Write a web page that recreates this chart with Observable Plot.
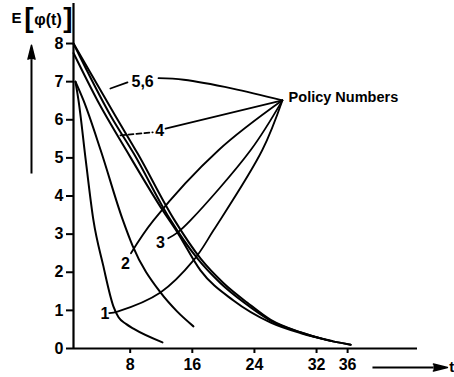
<!DOCTYPE html>
<html><head><meta charset="utf-8">
<script src="https://cdn.jsdelivr.net/npm/d3@7"></script>
<script src="https://cdn.jsdelivr.net/npm/@observablehq/plot@0.6"></script>
<style>
html,body{margin:0;padding:0;background:#fff;}
#wrap{position:relative;width:454px;height:377px;overflow:hidden;}
</style></head>
<body><div id="wrap"></div>
<script>
// tick values
const ticksY = [0, 1, 2, 3, 4, 5, 6, 7, 8];
const ticksX = [8, 16, 24, 32, 36];

// E[phi(t)] curves per policy: [t, E]
const policy1 = [[0.95,7.0],[1.35,6.5],[2.3,4.9],[3.27,3.36],[4.5,2.2],[5.85,1.1],[6.5,0.82],[7.5,0.64],[8.42,0.52],[12.16,0.16]];
const policy2 = [[0.95,7.0],[2.0,6.5],[4.2,5.2],[7.0,3.4],[8.3,2.7],[11.9,1.47],[14.0,0.98],[16.15,0.58]];
const policy3 = [[0.7,7.75],[3.8,6.5],[7.5,5.2],[12.2,3.62],[14.1,3.04],[17.05,2.05],[21.3,1.26],[26.1,0.68],[30,0.4],[34,0.2]];
const policy4 = [[0.7,8.0],[5.5,6.1],[8.5,5.1],[13.1,3.4],[16.7,2.35],[19.6,1.72],[22.7,1.2],[26.0,0.74],[30,0.42],[33,0.24],[36.4,0.1]];
const policy56 = [[0.7,8.0],[6.1,6.1],[9.0,5.1],[13.6,3.4],[17.1,2.35],[20,1.72],[23.1,1.2],[26.1,0.75],[30,0.42],[33,0.24],[36.4,0.1]];

// leader lines to "Policy Numbers"
const leader56 = [[11.65,7.09],[14.9,7.05],[21.2,6.82],[27.6,6.51]];
const stub56 = [[5.45,6.82],[7.65,6.98]];
const leader4 = [[12.55,5.77],[27.6,6.51]];
const dash4 = [[6.75,5.59],[10.9,5.67]];
const leader3 = [[12.9,2.89],[14.08,3.04],[15.76,3.36],[23.5,5.2],[27.6,6.51]];
const leader2 = [[8.1,2.5],[11.0,3.36],[19.37,5.2],[27.6,6.51]];
const leader1 = [[5.3,0.93],[6.36,0.97],[11.9,1.47],[16.15,2.31],[18.73,3.1],[25.0,5.2],[27.6,6.51]];

// labels
const policyLabels = ["5,6", "4", "3", "2", "1"];
const policyLabelT = [9.6, 11.8, 11.9, 7.4, 4.75];
const policyLabelE = [7.0, 5.7, 2.76, 2.23, 0.92];
const legendTitle = "Policy Numbers";
const legendPos = [28.4, 6.59];
const xName = "t";
const yTitleParts = ["E", "[", "φ(t)", "]"];

// decorative axis arrows: [x1, y1, x2, y2]
const upArrow = [-4.71, 4.59, -4.71, 7.59];
const rightArrow = [39.2, -0.5, 47.05, -0.5];

const labels = policyLabels.map((s, i) => ({s, t: policyLabelT[i], e: policyLabelE[i]}));
const P = d => d[0], Q = d => d[1];
const curveOpts = {x: P, y: Q, stroke: "black", strokeWidth: 2, curve: "monotone-x"};
const leadOpts = {x: P, y: Q, stroke: "black", strokeWidth: 1.8, curve: "catmull-rom"};
const titleText = (s, dx, dy, size) =>
  Plot.text([s], {frameAnchor: "top-left", textAnchor: "middle", lineAnchor: "middle", text: d => d, dx, dy, fontSize: size, fontWeight: "bold", fill: "black"});

const chart = Plot.plot({
  width: 454, height: 377,
  marginLeft: 73, marginRight: 37, marginTop: 3, marginBottom: 29,
  x: {domain: [0.7, 45]},
  y: {domain: [0, 9.05]},
  style: {fontFamily: "'Liberation Sans', Arial, sans-serif", fontSize: "16px", fontWeight: "bold", background: "white", overflow: "visible"},
  marks: [
    Plot.axisY({ticks: ticksY, tickSize: 7, tickPadding: 3, tickFormat: d => String(d), label: null, strokeWidth: 2}),
    Plot.axisX({ticks: ticksX, tickSize: 5, tickPadding: 5, tickFormat: d => String(d), label: null, strokeWidth: 2}),
    Plot.ruleX([0.7], {y1: 0, y2: 9.05, stroke: "black", strokeWidth: 2.2}),
    Plot.ruleY([0], {x1: 0.7, x2: 45, stroke: "black", strokeWidth: 2.2}),
    Plot.line(policy1, curveOpts),
    Plot.line(policy2, curveOpts),
    Plot.line(policy3, curveOpts),
    Plot.line(policy4, curveOpts),
    Plot.line(policy56, curveOpts),
    Plot.line(leader56, leadOpts),
    Plot.line(stub56, {...leadOpts, curve: "linear"}),
    Plot.line(leader4, {...leadOpts, curve: "linear"}),
    Plot.line(dash4, {...leadOpts, curve: "linear", strokeDasharray: "5,3"}),
    Plot.line(leader3, leadOpts),
    Plot.line(leader2, leadOpts),
    Plot.line(leader1, leadOpts),
    Plot.text(labels, {x: "t", y: "e", text: "s", fontSize: 16, fontWeight: "bold", fill: "black"}),
    Plot.text([legendTitle], {x: legendPos[0], y: legendPos[1], text: d => d, textAnchor: "start", fontSize: 14.5, fontWeight: "bold", fill: "black", letterSpacing: "0.5px"}),
    titleText(yTitleParts[0], -57, 15, 15),
    titleText(yTitleParts[1], -44.5, 15, 28),
    titleText(yTitleParts[2], -25.5, 16, 16),
    titleText(yTitleParts[3], -5.5, 15, 28),
    Plot.link([upArrow], {x1: d => d[0], y1: d => d[1], x2: d => d[2], y2: d => d[3], stroke: "black", strokeWidth: 2}),
    Plot.vector([upArrow], {x: d => d[2], y: d => d[3], length: 14, r: 3.5, shape: "spike", rotate: 0, anchor: "start", fill: "black", stroke: "black"}),
    Plot.link([rightArrow], {x1: d => d[0], y1: d => d[1], x2: d => d[2], y2: d => d[3], stroke: "black", strokeWidth: 2}),
    Plot.vector([rightArrow], {x: d => d[2], y: d => d[3], length: 14, r: 3.5, shape: "spike", rotate: 90, anchor: "start", fill: "black", stroke: "black"}),
    Plot.text([xName], {x: 49.1, y: -0.5, text: d => d, textAnchor: "start", fontSize: 15, fontWeight: "bold", fill: "black"})
  ]
});
document.getElementById("wrap").append(chart);
</script>
</body></html>
